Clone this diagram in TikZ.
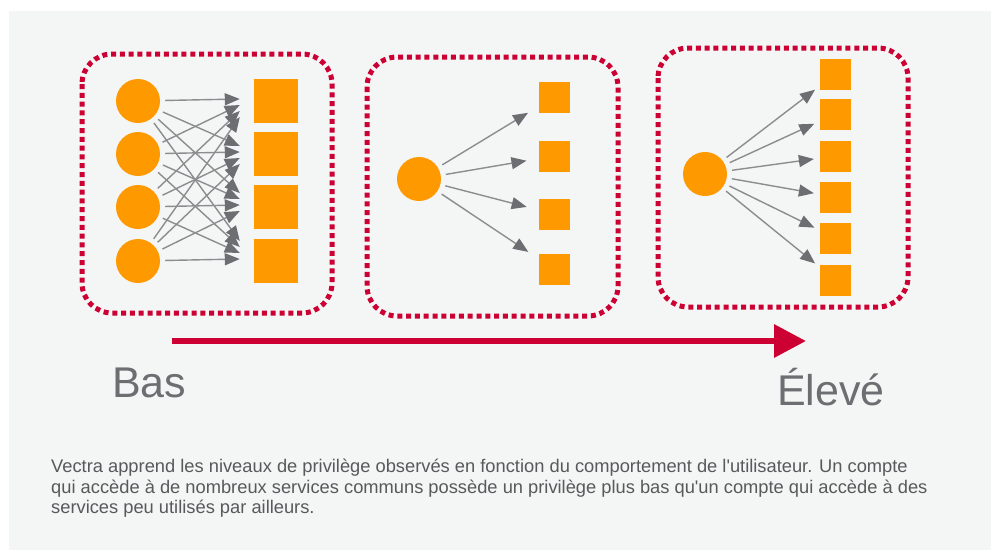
\documentclass[tikz,border=0pt]{standalone}
\usepackage{fontspec}
\setmainfont{Liberation Sans}[Ligatures=TeXOff]
\usetikzlibrary{arrows.meta,calc}
\tikzstyle{page} = [x = 1pt, y = -1pt]
\definecolor{backColor}{RGB}{244,245,245}
\definecolor{dotColor}{RGB}{204,0,51}
\definecolor{userColor}{RGB}{255,153,0}
\definecolor{linkColor}{RGB}{140,141,143}
\definecolor{tipColor}{RGB}{109,110,113}
\definecolor{labelColor}{RGB}{109,110,113}
\definecolor{textColor}{RGB}{88,89,91}
\tikzstyle{boxStyle} = [color=dotColor, line width=5pt, dash pattern=on 5pt off 3.8pt, rounded corners=30pt]
\tikzstyle{userStyle} = [circle, fill=userColor, minimum size=44pt, inner sep=0pt]
\tikzstyle{serviceStyle} = [rectangle, fill=userColor, inner sep=0pt]
\tikzstyle{linkStyle} = [color=linkColor, line width=1.4pt, shorten <=5pt, -{Triangle[length=15pt, width=12pt, color=tipColor]}]
\tikzstyle{scaleStyle} = [color=dotColor, line width=6.5pt, -{Triangle[length=32pt, width=32pt]}]
\tikzstyle{labelStyle} = [color=labelColor, font=\fontsize{43}{43}\selectfont, inner sep=0pt, anchor=base west]
\tikzstyle{textStyle} = [color=textColor, font=\fontsize{18.3}{20}\selectfont, inner sep=0pt, anchor=base west]
\newcommand{\serviceBox}[4]{\node [serviceStyle, minimum size=#4] (#1) at (#2,#3) {};}

\begin{document}
\begin{tikzpicture}[page]
  \fill [white] (0,0) rectangle (991,550);
  \fill [backColor] (9,11) rectangle (991,550);

  % many users, common services
  \draw [boxStyle] (82,54) rectangle (332,313);
  \foreach \i/\y in {1/101,2/154,3/207,4/261} {
    \node [userStyle] (u\i) at (138,\y) {};
    \serviceBox{a\i}{276}{\y}{44pt}
  }
  \foreach \i in {1,...,4} {
    \foreach \j in {1,...,4} {
      \draw [linkStyle] (u\i) -- ($(a\j.west)+(-14,{(\i-\j)*6-2})$);
    }
  }

  % one user, four services
  \draw [boxStyle] (367,57) rectangle (618,316);
  \node [userStyle] (v) at (419,179) {};
  \foreach \j/\y in {1/97,2/156,3/214,4/269} {
    \serviceBox{b\j}{554}{\y}{31pt}
    \draw [linkStyle, shorten >=12pt] (v) -- (b\j);
  }

  % one user, rare services
  \draw [boxStyle] (658,48) rectangle (908,307);
  \node [userStyle] (w) at (705,174) {};
  \foreach \j/\y in {1/74,2/114,3/156,4/197,5/238,6/280} {
    \serviceBox{d\j}{835.5}{\y}{31pt}
    \draw [linkStyle, shorten >=6pt] (w) -- (d\j);
  }

  % privilege scale
  \coordinate (lowEnd) at (172,341);
  \coordinate (highEnd) at (806,341);
  \draw [scaleStyle] (lowEnd) -- (highEnd);
  \node [labelStyle] (low) at (112,397) {Bas};
  \node [labelStyle] (high) at (777,405) {Élevé};

  \foreach \k/\lineText in {1/{Vectra apprend les niveaux de privilège observés en fonction du comportement de l'utilisateur. Un compte},
      2/{qui accède à de nombreux services communs possède un privilège plus bas qu'un compte qui accède à des},
      3/{services peu utilisés par ailleurs.}} {
    \node [textStyle] (desc\k) at (51,{452+20.5*\k}) {\lineText};
  }
\end{tikzpicture}
\end{document}
